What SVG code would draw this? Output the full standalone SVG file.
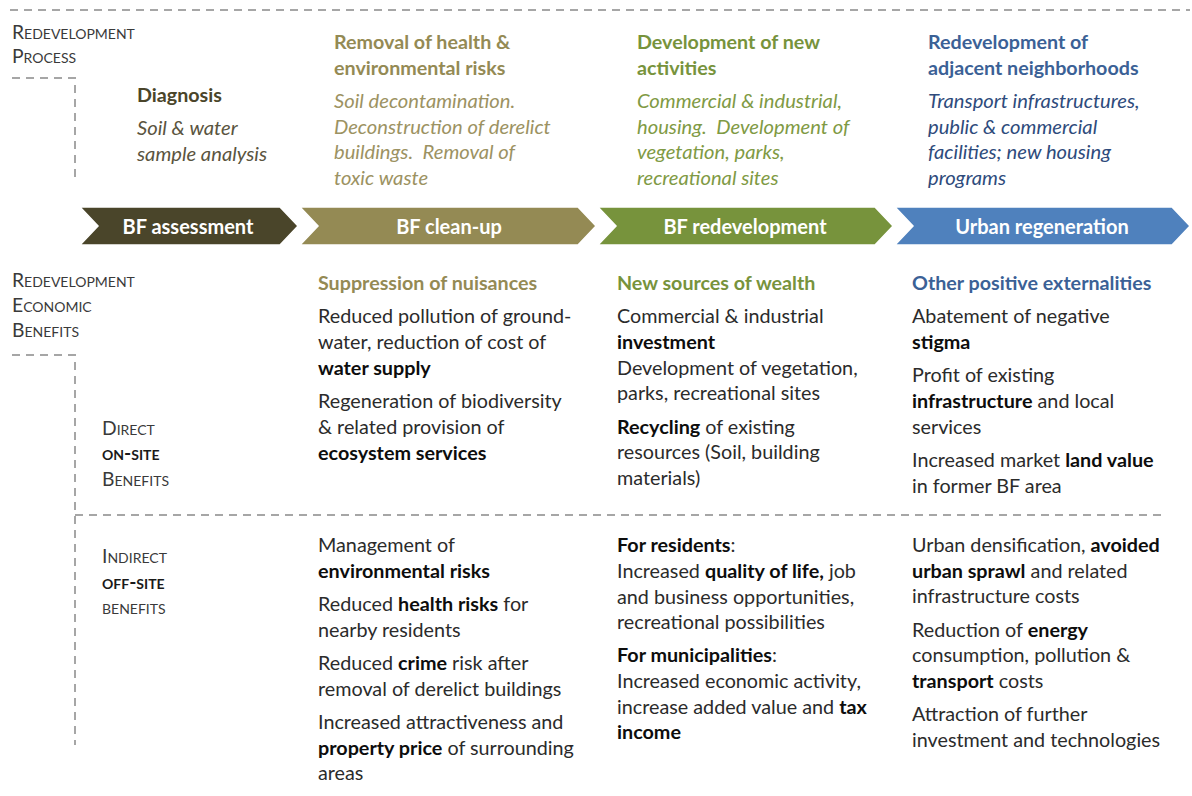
<svg xmlns="http://www.w3.org/2000/svg" width="1192" height="796" viewBox="0 0 1192 796">
<style>
text{font-family:Lato,"Open Sans","Liberation Sans",sans-serif;font-size:19.75px;fill:#2b2b2b}
.b{font-weight:bold;fill:#0d0d0d}
.sc{font-variant:small-caps;font-size:19.3px;fill:#3a3a3a}
.scb{font-variant:small-caps;font-size:19.3px;font-weight:bold;fill:#1a1a1a}
.h{font-weight:bold;font-size:19.7px}
.i{font-style:italic;font-size:20.2px;white-space:pre}
.chev{font-weight:bold;fill:#fff;font-size:20px;text-anchor:middle}
.sep{fill:none;stroke:#a6a6a6;stroke-width:2;stroke-dasharray:8 6}
.c1{fill:#4a452a}.c2{fill:#948a54}.c3{fill:#77933c}.c4{fill:#4f81bd}
</style>
<rect width="1192" height="796" fill="#fff"/>
<g id="separators">
<path class="sep" d="M10,10 H1190"/>
<path class="sep" d="M12,78 H75 V178"/>
<path class="sep" d="M12,355 H75 V745"/>
<path class="sep" d="M75,515 H1162"/>
</g>
<g id="section-labels">
<text class="sc" x="12" y="39">Redevelopment</text>
<text class="sc" x="12" y="63">Process</text>
<text class="sc" x="12" y="287">Redevelopment</text>
<text class="sc" x="12" y="312">Economic</text>
<text class="sc" x="12" y="337">Benefits</text>
<text class="sc" x="102" y="435">Direct</text>
<text class="scb" x="102" y="460">on-site</text>
<text class="sc" x="102" y="486">Benefits</text>
<text class="sc" x="102" y="563">Indirect</text>
<text class="scb" x="102" y="589">off-site</text>
<text class="sc" x="102" y="614">benefits</text>
</g>
<g id="process-diagnosis">
<text class="h" x="137" y="102" style="fill:#4a452a">Diagnosis</text>
<text class="i" x="137" y="135" style="fill:#5a5440">Soil &amp; water</text>
<text class="i" x="137" y="161" style="fill:#5a5440">sample analysis</text>
</g>
<g id="process-removal">
<text class="h" x="334" y="49" style="fill:#948a54">Removal of health &amp;</text>
<text class="h" x="334" y="75" style="fill:#948a54">environmental risks</text>
<text class="i" x="334" y="108" style="fill:#9c9262">Soil decontamination.</text>
<text class="i" x="334" y="134" style="fill:#9c9262">Deconstruction of derelict</text>
<text class="i" x="334" y="159" style="fill:#9c9262">buildings.  Removal of</text>
<text class="i" x="334" y="185" style="fill:#9c9262">toxic waste</text>
</g>
<g id="process-development">
<text class="h" x="637" y="49" style="fill:#77933c">Development of new</text>
<text class="h" x="637" y="75" style="fill:#77933c">activities</text>
<text class="i" x="637" y="108" style="fill:#7f9a44">Commercial &amp; industrial,</text>
<text class="i" x="637" y="134" style="fill:#7f9a44">housing.  Development of</text>
<text class="i" x="637" y="159" style="fill:#7f9a44">vegetation, parks,</text>
<text class="i" x="637" y="185" style="fill:#7f9a44">recreational sites</text>
</g>
<g id="process-neighborhoods">
<text class="h" x="928" y="49" style="fill:#3b6196">Redevelopment of</text>
<text class="h" x="928" y="75" style="fill:#3b6196">adjacent neighborhoods</text>
<text class="i" x="928" y="108" style="fill:#2e4b7c">Transport infrastructures,</text>
<text class="i" x="928" y="134" style="fill:#2e4b7c">public &amp; commercial</text>
<text class="i" x="928" y="159" style="fill:#2e4b7c">facilities; new housing</text>
<text class="i" x="928" y="185" style="fill:#2e4b7c">programs</text>
</g>
<g id="stage-assessment">
<path class="c1" stroke="#fff" stroke-width="1.5" d="M80,207 H280 L298,226 L280,245 H80 L98,226 Z"/>
<text class="chev" x="188" y="234">BF assessment</text>
</g>
<g id="stage-cleanup">
<path class="c2" stroke="#fff" stroke-width="1.5" d="M300,207 H578 L596,226 L578,245 H300 L318,226 Z"/>
<text class="chev" x="449" y="234">BF clean-up</text>
</g>
<g id="stage-redevelopment">
<path class="c3" stroke="#fff" stroke-width="1.5" d="M598,207 H875 L893,226 L875,245 H598 L616,226 Z"/>
<text class="chev" x="745" y="234">BF redevelopment</text>
</g>
<g id="stage-urban">
<path class="c4" stroke="#fff" stroke-width="1.5" d="M895,207 H1172 L1190,226 L1172,245 H895 L913,226 Z"/>
<text class="chev" x="1042" y="234">Urban regeneration</text>
</g>
<g id="direct-cleanup">
<text class="h" x="318" y="290" style="fill:#948a54">Suppression of nuisances</text>
<text x="318" y="323">Reduced pollution of ground-</text>
<text x="318" y="349">water, reduction of cost of</text>
<text x="318" y="375" class="b">water supply</text>
<text x="318" y="408">Regeneration of biodiversity</text>
<text x="318" y="434">&amp; related provision of</text>
<text x="318" y="460" class="b">ecosystem services</text>
</g>
<g id="direct-redevelopment">
<text class="h" x="617" y="290" style="fill:#77933c">New sources of wealth</text>
<text x="617" y="323">Commercial &amp; industrial</text>
<text x="617" y="349" class="b">investment</text>
<text x="617" y="375">Development of vegetation,</text>
<text x="617" y="400">parks, recreational sites</text>
<text x="617" y="434"><tspan class="b">Recycling</tspan> of existing</text>
<text x="617" y="459">resources (Soil, building</text>
<text x="617" y="485">materials)</text>
</g>
<g id="direct-urban">
<text class="h" x="912" y="290" style="fill:#3b6196">Other positive externalities</text>
<text x="912" y="323">Abatement of negative</text>
<text x="912" y="349" class="b">stigma</text>
<text x="912" y="382">Profit of existing</text>
<text x="912" y="408"><tspan class="b">infrastructure</tspan> and local</text>
<text x="912" y="434">services</text>
<text x="912" y="467">Increased market <tspan class="b">land value</tspan></text>
<text x="912" y="493">in former BF area</text>
</g>
<g id="indirect-cleanup">
<text x="318" y="552">Management of</text>
<text x="318" y="578" class="b">environmental risks</text>
<text x="318" y="611">Reduced <tspan class="b">health risks</tspan> for</text>
<text x="318" y="637">nearby residents</text>
<text x="318" y="670">Reduced <tspan class="b">crime</tspan> risk after</text>
<text x="318" y="696">removal of derelict buildings</text>
<text x="318" y="729">Increased attractiveness and</text>
<text x="318" y="755"><tspan class="b">property price</tspan> of surrounding</text>
<text x="318" y="780">areas</text>
</g>
<g id="indirect-redevelopment">
<text x="617" y="552"><tspan class="b">For residents</tspan>:</text>
<text x="617" y="578">Increased <tspan class="b">quality of life,</tspan> job</text>
<text x="617" y="604">and business opportunities,</text>
<text x="617" y="629">recreational possibilities</text>
<text x="617" y="662"><tspan class="b">For municipalities</tspan>:</text>
<text x="617" y="688">Increased economic activity,</text>
<text x="617" y="714">increase added value and <tspan class="b">tax</tspan></text>
<text x="617" y="739" class="b">income</text>
</g>
<g id="indirect-urban">
<text x="912" y="552">Urban densification, <tspan class="b">avoided</tspan></text>
<text x="912" y="578"><tspan class="b">urban sprawl</tspan> and related</text>
<text x="912" y="603">infrastructure costs</text>
<text x="912" y="637">Reduction of <tspan class="b">energy</tspan></text>
<text x="912" y="662">consumption, pollution &amp;</text>
<text x="912" y="688"><tspan class="b">transport</tspan> costs</text>
<text x="912" y="721">Attraction of further</text>
<text x="912" y="747">investment and technologies</text>
</g>
</svg>
